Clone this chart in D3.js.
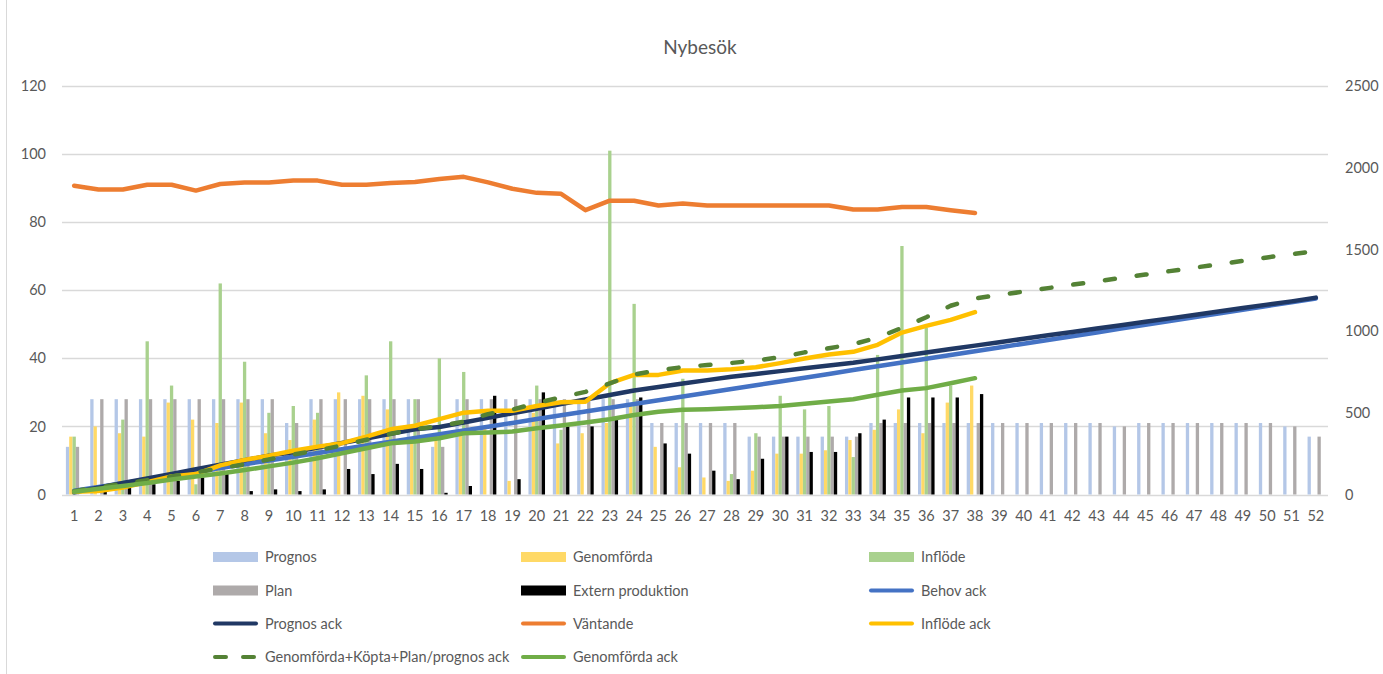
<!DOCTYPE html>
<html>

<head>
    <meta charset="utf-8">
    <style>
        body { margin: 0; background: #fff; }
        text { font-family: Lato, "Open Sans", sans-serif; fill: #595959; }
    </style>
</head>

<body>
    <script src="https://d3js.org/d3.v7.min.js"></script>
    <div id="chart"></div>
    <script>
        const width = 1383
        const height = 674

        // veckor
        const weeks = d3.range(1, 53).map(String)

        // staplar (vänster axel)
        const prognos = [14, 28, 28, 28, 28, 28, 28, 28, 28, 21, 28, 28, 28, 28, 28, 14, 28, 28, 28, 28, 28, 28, 28, 28, 21, 21,
            21, 21, 17, 17, 17, 17, 17, 21, 21, 21, 21, 21, 21, 21, 21, 21, 21, 20, 21, 21, 21, 21, 21, 21, 20, 17]
        const genomforda = [17, 20, 18, 17, 27, 22, 21, 27, 18, 16, 22, 30, 29, 25, 16, 18, 18, 20, 4, 24, 15, 18, 21, 26, 14, 8,
            5, 4, 7, 12, 12, 13, 16, 19, 25, 18, 27, 32]
        const inflode = [17, 0, 22, 45, 32, 3, 62, 39, 24, 26, 24, 0, 35, 45, 28, 40, 36, 0, 0, 32, 19, 0, 101, 56, 0, 34,
            0, 6, 18, 29, 25, 26, 11, 41, 73, 49, 32, 0]
        const plan = [14, 28, 28, 28, 28, 28, 28, 28, 28, 21, 28, 28, 28, 28, 28, 14, 28, 28, 28, 28, 28, 28, 28, 28, 21, 21,
            21, 21, 17, 17, 17, 17, 17, 21, 21, 21, 21, 21, 21, 21, 21, 21, 21, 20, 21, 21, 21, 21, 21, 21, 20, 17]
        const extern = [0, 3, 2, 3, 4, 5, 6, 1, 1.5, 1, 1.5, 7.5, 6, 9, 7.5, 0.5, 2.5, 29, 4.5, 30, 20, 20, 22, 28.5, 15, 12,
            7, 4.5, 10.5, 17, 12.5, 12.5, 18, 22, 28.5, 28.5, 28.5, 29.5]

        // linjer (höger axel)
        const behovAck = [23, 46, 69, 92, 115, 138, 162, 185, 208, 231, 254, 277, 300, 323, 346, 369, 392, 415, 438, 462, 485, 508,
            531, 554, 577, 600, 623, 646, 669, 692, 715, 738, 762, 785, 808, 831, 854, 877, 900, 923, 946, 969, 992, 1015,
            1038, 1062, 1085, 1108, 1131, 1154, 1177, 1200]
        const prognosAck = [14, 42, 70, 98, 126, 154, 182, 210, 238, 259, 287, 315, 343, 371, 399, 413, 441, 469, 497, 525, 553, 581,
            609, 637, 658, 679, 700, 721, 738, 755, 772, 789, 806, 827, 848, 869, 890, 911, 932, 953, 974, 995, 1016, 1036,
            1057, 1078, 1099, 1120, 1141, 1162, 1182, 1205]
        const vantande = [1890, 1867, 1867, 1896, 1896, 1860, 1900, 1910, 1910, 1921, 1921, 1896, 1896, 1906, 1912, 1931, 1944, 1910,
            1871, 1846, 1840, 1740, 1798, 1798, 1769, 1781, 1769, 1769, 1769, 1769, 1769, 1769, 1744, 1744, 1760, 1760, 1740, 1723]
        const inflodeAck = [17, 22, 42, 76, 110, 125, 178, 212, 238, 268, 293, 314, 354, 399, 421, 461, 501, 512, 512, 542, 565, 568,
            681, 732, 732, 759, 759, 767, 779, 804, 832, 857, 873, 916, 991, 1032, 1069, 1116]
        const gkpAck = [20, 45, 65, 88, 110, 135, 160, 185, 215, 245, 270, 300, 335, 372, 400, 418, 446, 492, 520, 560, 595, 628,
            680, 735, 760, 780, 792, 805, 820, 840, 870, 895, 920, 960, 1020, 1085, 1155, 1200, 1221, 1242, 1263, 1284, 1305,
            1325, 1346, 1367, 1388, 1409, 1430, 1451, 1471, 1490]
        const genomfordaAck = [17, 35, 52, 70, 92, 110, 128, 150, 172, 195, 222, 252, 283, 314, 324, 344, 375, 379, 385, 405, 422, 440,
            461, 487, 507, 518, 522, 528, 534, 542, 555, 569, 583, 610, 636, 651, 681, 712]

        const leftTicks = [0, 20, 40, 60, 80, 100, 120]
        const rightTicks = [0, 500, 1000, 1500, 2000, 2500]

        const barSeries = [
            { name: "Prognos", values: prognos, color: "#b4c7e7" },
            { name: "Genomförda", values: genomforda, color: "#ffd966" },
            { name: "Inflöde", values: inflode, color: "#a9d18e" },
            { name: "Plan", values: plan, color: "#aeaaaa" },
            { name: "Extern produktion", values: extern, color: "#000000" }
        ]
        const lineSeries = [
            { name: "Behov ack", values: behovAck, color: "#4472c4" },
            { name: "Prognos ack", values: prognosAck, color: "#203864" },
            { name: "Väntande", values: vantande, color: "#ed7d31" },
            { name: "Inflöde ack", values: inflodeAck, color: "#ffc000" },
            { name: "Genomförda+Köpta+Plan/prognos ack", values: gkpAck, color: "#548235", dash: true },
            { name: "Genomförda ack", values: genomfordaAck, color: "#70ad47" }
        ]

        const plot = { left: 62, right: 1328, top: 86, bottom: 494.5 }

        const svg = d3.select("#chart").append("svg")
            .attr("width", width)
            .attr("height", height)

        // ram
        svg.append("line")
            .attr("x1", 6.5).attr("x2", 6.5)
            .attr("y1", 0).attr("y2", height)
            .attr("stroke", "#d9d9d9")

        svg.append("text")
            .attr("x", 700)
            .attr("y", 54)
            .attr("text-anchor", "middle")
            .style("font-size", "19px")
            .text("Nybesök")

        const xScale = d3.scaleBand()
            .domain(weeks)
            .range([plot.left, plot.right])
            .paddingInner(0.32)
            .paddingOuter(0.16)

        const xSub = d3.scaleBand()
            .domain(barSeries.map(d => d.name))
            .range([0, xScale.bandwidth()])

        const yLeft = d3.scaleLinear().domain([0, 120]).range([plot.bottom, plot.top])
        const yRight = d3.scaleLinear().domain([0, 2500]).range([plot.bottom, plot.top])

        // rutnät
        svg.append("g")
            .selectAll("line")
            .data(leftTicks)
            .enter()
            .append("line")
            .attr("x1", plot.left)
            .attr("x2", plot.right)
            .attr("y1", d => Math.round(yLeft(d)) + 0.5)
            .attr("y2", d => Math.round(yLeft(d)) + 0.5)
            .attr("stroke", "#d9d9d9")
            .attr("stroke-width", 1.3)

        const yAxisLeft = d3.axisLeft(yLeft).tickValues(leftTicks).tickSize(0).tickPadding(16)
        svg.append("g")
            .attr("transform", "translate(" + plot.left + ",0)")
            .call(yAxisLeft)
            .call(g => g.select(".domain").remove())
            .selectAll("text")
            .style("font-size", "14.5px")
            .style("font-family", "Lato, sans-serif")
            .attr("fill", "#595959")

        const yAxisRight = d3.axisRight(yRight).tickValues(rightTicks).tickFormat(d3.format("d")).tickSize(0).tickPadding(17)
        svg.append("g")
            .attr("transform", "translate(" + plot.right + ",0)")
            .call(yAxisRight)
            .call(g => g.select(".domain").remove())
            .selectAll("text")
            .style("font-size", "14.5px")
            .style("font-family", "Lato, sans-serif")
            .attr("fill", "#595959")

        const xAxis = d3.axisBottom(xScale).tickSize(0).tickPadding(16)
        svg.append("g")
            .attr("transform", "translate(0," + plot.bottom + ")")
            .call(xAxis)
            .call(g => g.select(".domain").remove())
            .selectAll("text")
            .style("font-size", "14.5px")
            .style("font-family", "Lato, sans-serif")
            .attr("fill", "#595959")

        // staplar
        barSeries.forEach(s => {
            svg.append("g")
                .selectAll("rect")
                .data(s.values.map((v, i) => ({ week: weeks[i], value: v })))
                .enter()
                .append("rect")
                .attr("x", d => xScale(d.week) + xSub(s.name))
                .attr("width", xSub.bandwidth())
                .attr("y", d => yLeft(d.value))
                .attr("height", d => plot.bottom - yLeft(d.value))
                .attr("fill", s.color)
        })

        // linjer
        const line = d3.line()
            .defined(d => d.value != null)
            .x(d => xScale(d.week) + xScale.bandwidth() / 2)
            .y(d => yRight(d.value))

        lineSeries.forEach(s => {
            svg.append("path")
                .datum(s.values.map((v, i) => ({ week: weeks[i], value: v })))
                .attr("d", line)
                .attr("fill", "none")
                .attr("stroke", s.color)
                .attr("stroke-width", 4.5)
                .attr("stroke-linecap", "round")
                .attr("stroke-linejoin", "round")
                .attr("stroke-dasharray", s.dash ? "10,22" : null)
        })

        // förklaring
        const legendItems = [
            { name: "Prognos", color: "#b4c7e7", type: "bar" },
            { name: "Genomförda", color: "#ffd966", type: "bar" },
            { name: "Inflöde", color: "#a9d18e", type: "bar" },
            { name: "Plan", color: "#aeaaaa", type: "bar" },
            { name: "Extern produktion", color: "#000000", type: "bar" },
            { name: "Behov ack", color: "#4472c4", type: "line" },
            { name: "Prognos ack", color: "#203864", type: "line" },
            { name: "Väntande", color: "#ed7d31", type: "line" },
            { name: "Inflöde ack", color: "#ffc000", type: "line" },
            { name: "Genomförda+Köpta+Plan/prognos ack", color: "#548235", type: "dash" },
            { name: "Genomförda ack", color: "#70ad47", type: "line" }
        ]
        const colX = [213, 521, 869]
        const rowY = [557, 590.5, 623.5, 657]

        const legend = svg.append("g").attr("id", "legend")
        legendItems.forEach((item, i) => {
            const g = legend.append("g")
                .attr("transform", "translate(" + colX[i % 3] + "," + rowY[Math.floor(i / 3)] + ")")
            if (item.type === "bar") {
                g.append("rect")
                    .attr("x", 0).attr("y", -5)
                    .attr("width", 45).attr("height", 10)
                    .attr("fill", item.color)
            } else {
                g.append("line")
                    .attr("x1", 2).attr("x2", 43)
                    .attr("y1", 0).attr("y2", 0)
                    .attr("stroke", item.color)
                    .attr("stroke-width", 4)
                    .attr("stroke-linecap", "round")
                    .attr("stroke-dasharray", item.type === "dash" ? "11,17" : null)
            }
            g.append("text")
                .attr("x", 52)
                .attr("y", 5)
                .style("font-size", "14.5px")
                .text(item.name)
        })
    </script>
</body>

</html>
